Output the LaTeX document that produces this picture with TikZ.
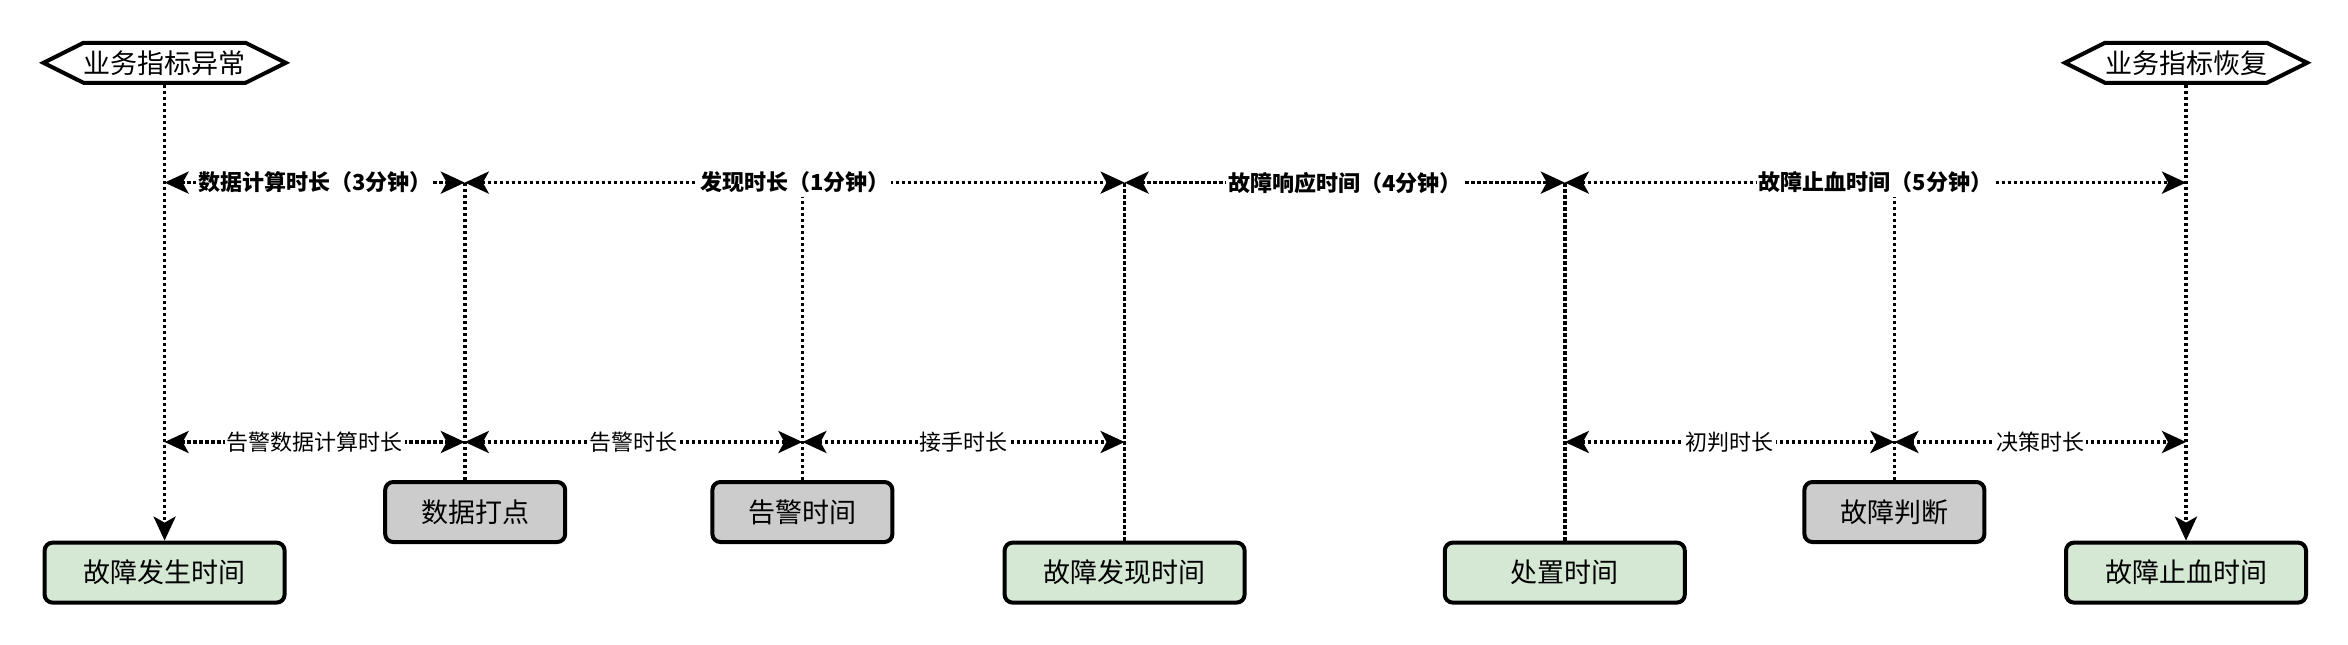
\documentclass[tikz,border=0pt]{standalone}
\usepackage{fontspec}
\newfontfamily\cjk{Noto Sans CJK SC}
\usetikzlibrary{arrows.meta,shapes.symbols}
\definecolor{okgreen}{HTML}{D5E8D4}
\definecolor{midgray}{HTML}{CCCCCC}

\begin{document}
\begin{tikzpicture}[
    x=1pt, y=-1pt,
    box/.style={rectangle, draw, line width=2pt, rounded corners=4pt, minimum height=30pt, align=center, font=\cjk\fontsize{13.5}{16}\selectfont},
    event/.style={box, fill=okgreen, minimum width=120pt},
    probe/.style={box, fill=midgray, minimum width=90pt},
    hexa/.style={signal, signal to=west and east, signal pointer angle=53, draw, line width=2pt, minimum width=120pt, minimum height=20pt, inner xsep=0pt, inner ysep=0pt, font=\cjk\fontsize{13.5}{16}\selectfont},
    guide/.style={line width=1.8pt, dash pattern=on 1.6pt off 1.4pt},
    tip/.style={-{Stealth[length=12pt, width=11pt, inset=3pt]}},
    span/.style={guide, {Stealth[length=12pt, width=11pt, inset=3pt]}-{Stealth[length=12pt, width=11pt, inset=3pt]}},
    lbl/.style={fill=white, inner xsep=1pt, inner ysep=2pt, font=\cjk\fontsize{11}{13}\selectfont},
    blbl/.style={lbl, font=\cjk\bfseries\fontsize{11}{13}\selectfont}
]
\useasboundingbox (0,0) rectangle (1174,322);

\node[hexa] (abn) at (82.3,31.4) {业务指标异常};
\node[hexa] (rec) at (1093,31.4) {业务指标恢复};

\node[event] (occur) at (82.3,286.3) {故障发生时间};
\node[probe] (point) at (237.6,256) {数据打点};
\node[probe] (alarm) at (401.2,256) {告警时间};
\node[event] (found) at (562.3,286.3) {故障发现时间};
\node[event] (handle) at (782.4,286.3) {处置时间};
\node[probe] (judge) at (947.2,256) {故障判断};
\node[event] (stop) at (1093,286.3) {故障止血时间};

\coordinate (top) at (0,91.3);
\coordinate (bot) at (0,221);

\draw[guide, tip] (abn.south) -- (occur.north);
\draw[guide, tip] (rec.south) -- (stop.north);
\draw[guide] (point.108) -- (point.108 |- top);
\draw[guide] (alarm.north) -- (alarm |- top);
\draw[guide] (found.north) -- (found |- top);
\draw[guide] (handle.north) -- (handle |- top);
\draw[guide] (judge.north) -- (judge |- top);

\draw[span] (occur |- top) -- node[blbl] {数据计算时长（3分钟）} (point.108 |- top);
\draw[span] (point.108 |- top) -- node[blbl] {发现时长（1分钟）} (found |- top);
\draw[span] (found |- top) -- node[blbl] {故障响应时间（4分钟）} (handle |- top);
\draw[span] (handle |- top) -- node[blbl] {故障止血时间（5分钟）} (stop |- top);

\draw[span] (occur |- bot) -- node[lbl] {告警数据计算时长} (point.108 |- bot);
\draw[span] (point.108 |- bot) -- node[lbl] {告警时长} (alarm |- bot);
\draw[span] (alarm |- bot) -- node[lbl] {接手时长} (found |- bot);
\draw[span] (handle |- bot) -- node[lbl] {初判时长} (judge |- bot);
\draw[span] (judge |- bot) -- node[lbl] {决策时长} (stop |- bot);

\end{tikzpicture}
\end{document}
